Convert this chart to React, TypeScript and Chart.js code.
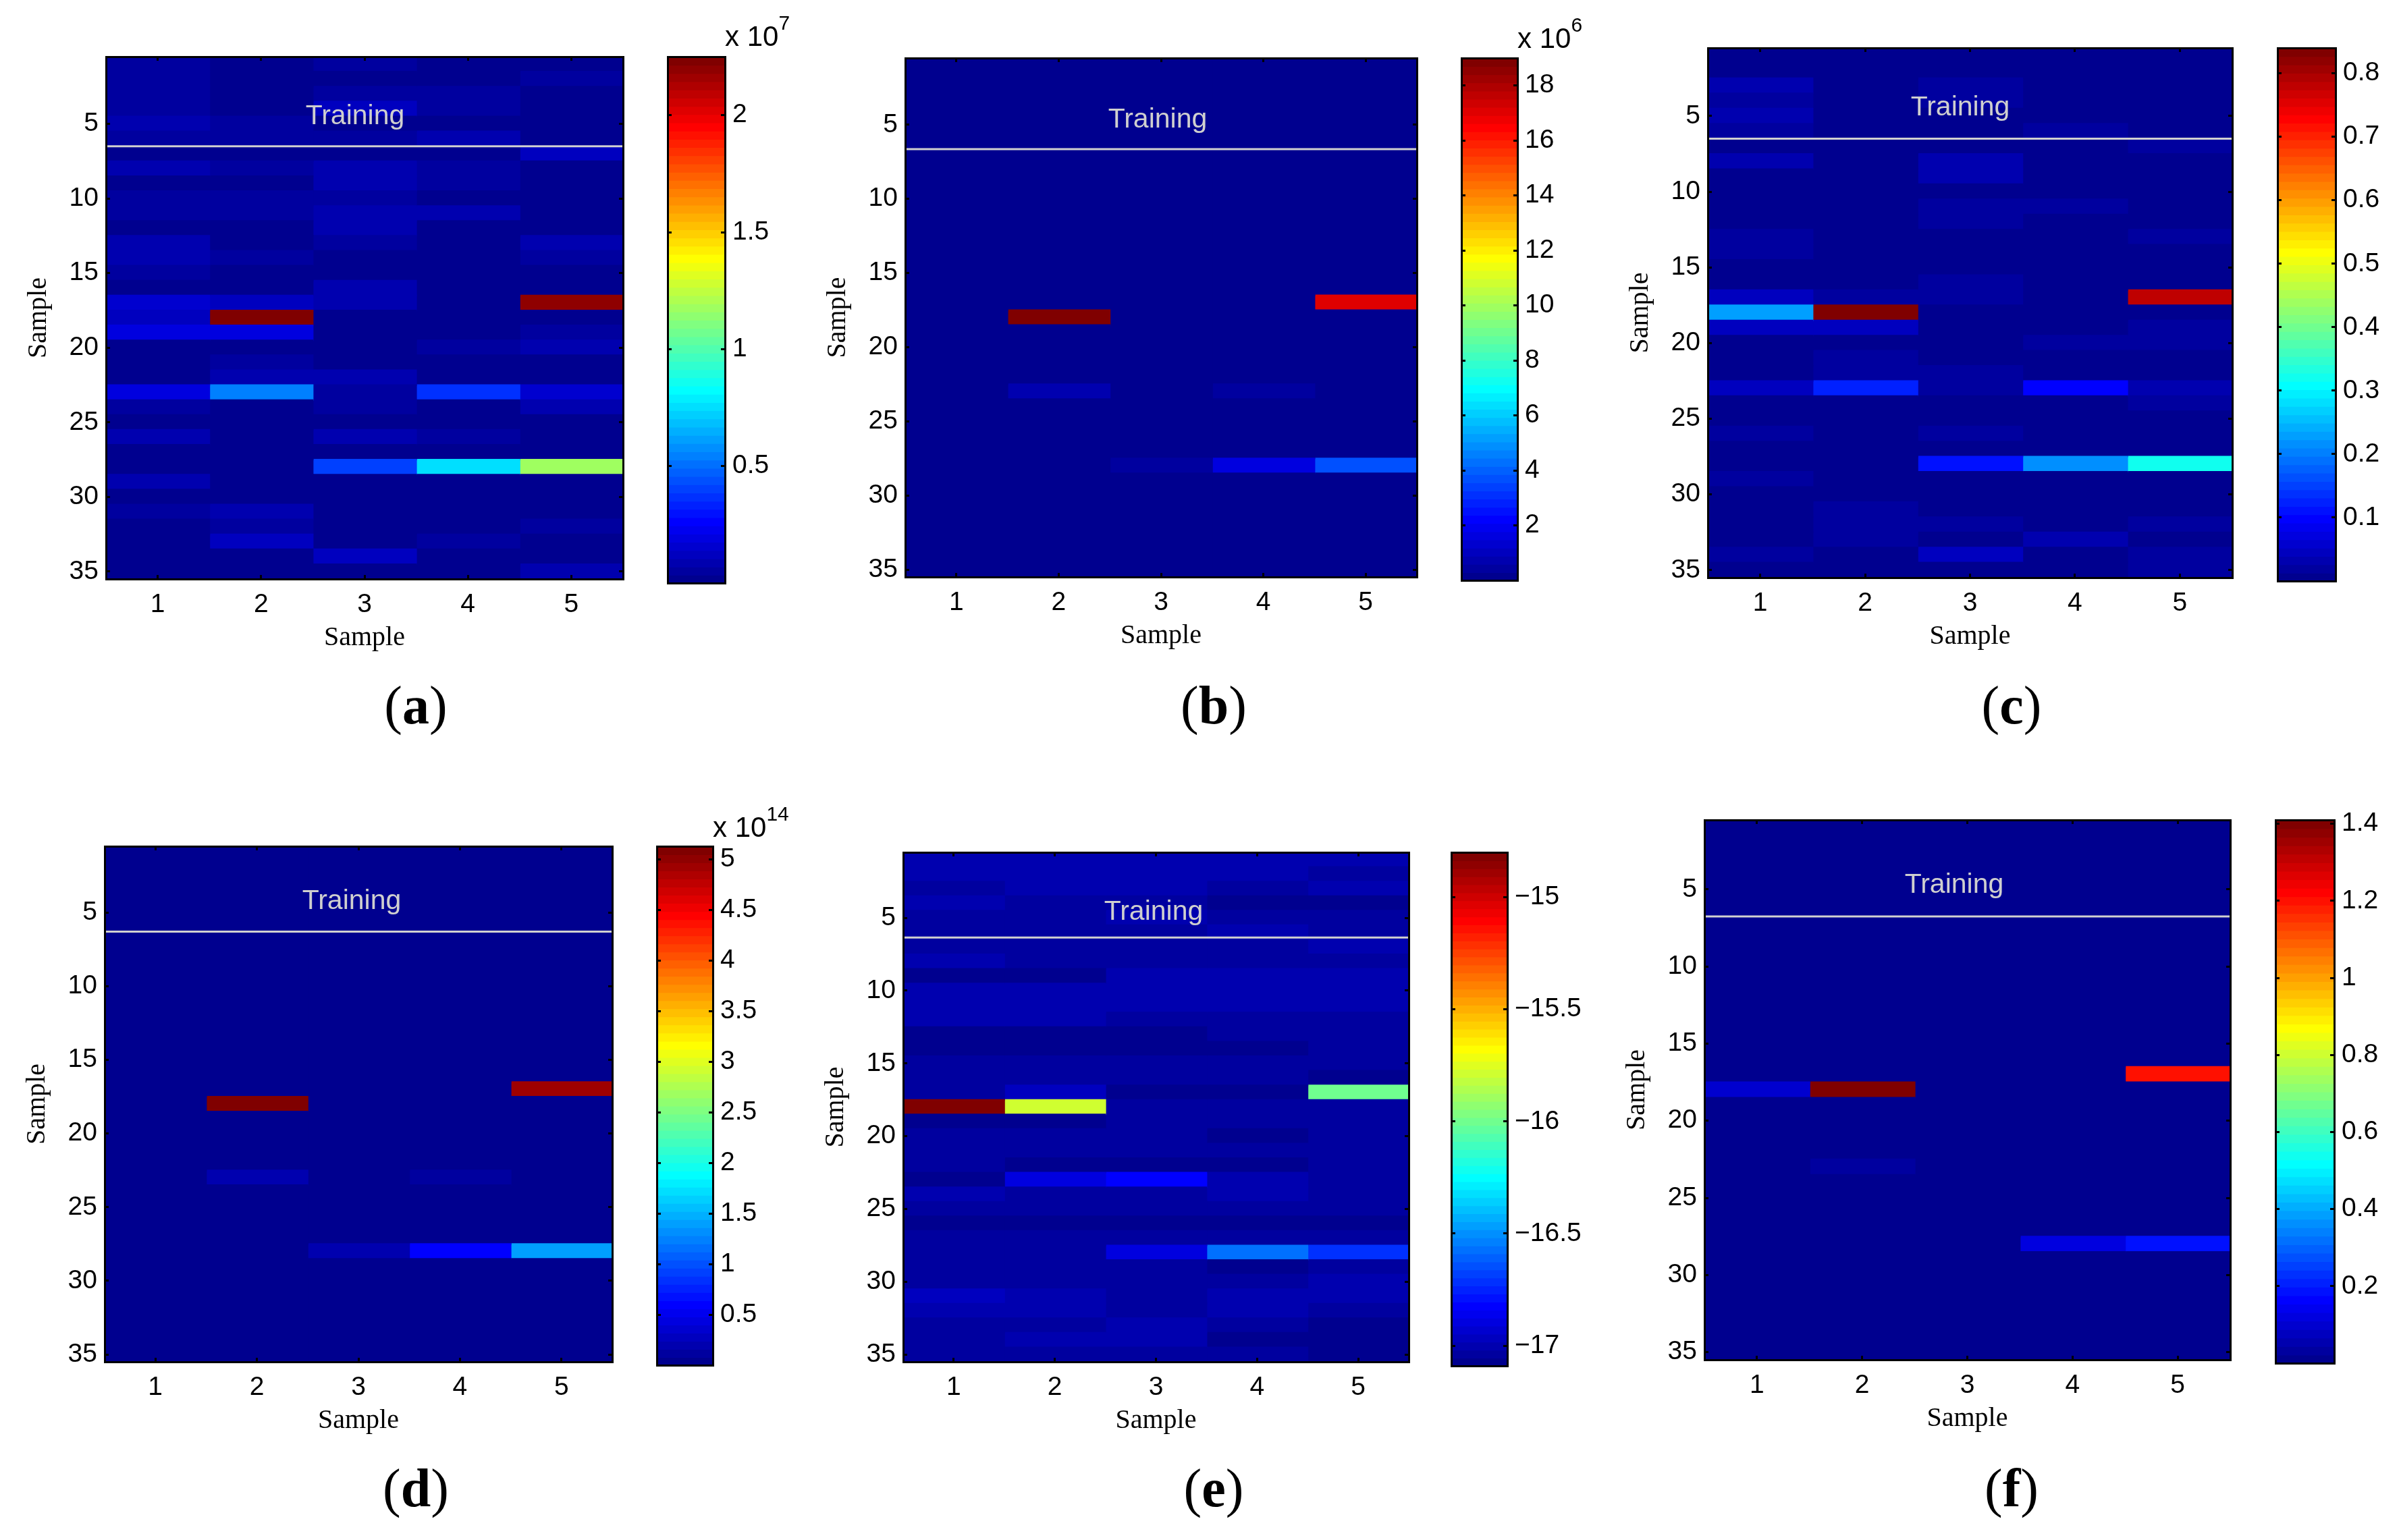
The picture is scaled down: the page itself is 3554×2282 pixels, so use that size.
import { useEffect, useRef } from 'react';
import { Chart, registerables } from 'chart.js';

Chart.register(...registerables);

const sampleTicks = [1, 2, 3, 4, 5];
const rowTicks = [5, 10, 15, 20, 25, 30, 35];

// each panel: five columns of 35 rows
const panelA = [
    [.05, .05, .05, .05, .09, .05, .02, .09, .02, .05, .05, .02, .09, .09, .05, .02, .16, .12, .19, .02, .02, .02, .19, .05, .02, .09, .02, .02, .09, .02, .05, .02, .02, .02, .02],
    [.02, .02, .02, .02, .05, .05, .02, .05, .02, .05, .05, .02, .02, .05, .02, .02, .12, 2.25, .19, .02, .05, .09, .55, .02, .02, .02, .02, .02, .02, .02, .09, .05, .12, .02, .02],
    [.05, .02, .05, .12, .02, .05, .02, .09, .09, .05, .09, .09, .05, .02, .02, .09, .09, .02, .02, .02, .02, .09, .05, .05, .02, .09, .02, .42, .02, .02, .02, .02, .02, .12, .02],
    [.02, .02, .05, .05, .02, .09, .02, .05, .05, .02, .09, .02, .02, .02, .02, .02, .02, .02, .02, .05, .02, .02, .38, .02, .02, .05, .02, .75, .02, .02, .02, .02, .05, .02, .02],
    [.02, .05, .02, .02, .02, .02, .12, .02, .02, .02, .02, .02, .09, .05, .02, .02, 2.2, .02, .05, .09, .02, .02, .16, .09, .02, .02, .02, 1.17, .02, .02, .02, .05, .02, .02, .09],
];

const panelB = [
    [.1, .1, .1, .1, .1, .1, .1, .1, .1, .1, .1, .1, .1, .1, .1, .1, .1, .1, .1, .1, .1, .1, .1, .1, .1, .1, .1, .1, .1, .1, .1, .1, .1, .1, .1],
    [.1, .1, .1, .1, .1, .1, .1, .1, .1, .1, .1, .1, .1, .1, .1, .1, .1, 19, .1, .1, .1, .1, .89, .1, .1, .1, .1, .1, .1, .1, .1, .1, .1, .1, .1],
    [.1, .1, .1, .1, .1, .1, .1, .1, .1, .1, .1, .1, .1, .1, .1, .1, .1, .1, .1, .1, .1, .1, .1, .1, .1, .1, .1, .45, .1, .1, .1, .1, .1, .1, .1],
    [.1, .1, .1, .1, .1, .1, .1, .1, .1, .1, .1, .1, .1, .1, .1, .1, .1, .1, .1, .1, .1, .1, .45, .1, .1, .1, .1, 1.6, .1, .1, .1, .1, .1, .1, .1],
    [.1, .1, .1, .1, .1, .1, .1, .1, .1, .1, .1, .1, .1, .1, .1, .1, 17.2, .1, .1, .1, .1, .1, .1, .1, .1, .1, .1, 3.8, .1, .1, .1, .1, .1, .1, .1],
];

const panelC = [
    [.007, .007, .033, .02, .033, .02, .007, .033, .007, .007, .007, .007, .02, .02, .007, .007, .046, .233, .046, .007, .007, .007, .046, .007, .007, .02, .007, .007, .02, .007, .007, .007, .007, .02, .007],
    [.007, .007, .007, .007, .007, .007, .007, .007, .007, .007, .007, .007, .007, .007, .007, .007, .02, .84, .046, .007, .02, .02, .125, .007, .007, .007, .007, .007, .007, .007, .02, .02, .02, .007, .007],
    [.007, .007, .02, .02, .007, .007, .007, .033, .033, .007, .02, .02, .007, .007, .007, .02, .02, .007, .007, .007, .007, .02, .02, .007, .007, .02, .007, .115, .007, .007, .007, .02, .007, .046, .007],
    [.007, .007, .007, .007, .007, .02, .007, .007, .007, .007, .02, .007, .007, .007, .007, .007, .007, .007, .007, .02, .007, .007, .098, .007, .007, .007, .007, .21, .007, .007, .007, .007, .033, .007, .007],
    [.007, .007, .007, .007, .007, .007, .02, .007, .007, .007, .007, .007, .02, .007, .007, .007, .777, .007, .02, .02, .007, .007, .033, .02, .007, .007, .007, .315, .007, .007, .007, .02, .007, .02, .02],
];

const panelD = [
    [.04, .04, .04, .04, .04, .04, .04, .04, .04, .04, .04, .04, .04, .04, .04, .04, .04, .04, .04, .04, .04, .04, .04, .04, .04, .04, .04, .04, .04, .04, .04, .04, .04, .04, .04],
    [.04, .04, .04, .04, .04, .04, .04, .04, .04, .04, .04, .04, .04, .04, .04, .04, .04, 5.13, .04, .04, .04, .04, .2, .04, .04, .04, .04, .04, .04, .04, .04, .04, .04, .04, .04],
    [.04, .04, .04, .04, .04, .04, .04, .04, .04, .04, .04, .04, .04, .04, .04, .04, .04, .04, .04, .04, .04, .04, .04, .04, .04, .04, .04, .2, .04, .04, .04, .04, .04, .04, .04],
    [.04, .04, .04, .04, .04, .04, .04, .04, .04, .04, .04, .04, .04, .04, .04, .04, .04, .04, .04, .04, .04, .04, .12, .04, .04, .04, .04, .6, .04, .04, .04, .04, .04, .04, .04],
    [.04, .04, .04, .04, .04, .04, .04, .04, .04, .04, .04, .04, .04, .04, .04, .04, 4.95, .04, .04, .04, .04, .04, .04, .04, .04, .04, .04, 1.41, .04, .04, .04, .04, .04, .04, .04],
];

const panelE = [
    [-17, -17, -17.04, -17, -17.04, -17.04, -17.04, -17, -17.07, -17, -17, -17, -17.07, -17.07, -17.04, -17.04, -17.04, -14.8, -17.07, -17.04, -17.04, -17.04, -17.07, -17, -17.04, -17.07, -17.04, -17.04, -17.04, -17.04, -16.97, -17, -17.04, -17.04, -17.04],
    [-17, -17, -17, -17.04, -17.04, -17.04, -17.04, -17.04, -17.07, -17, -17, -17, -17.07, -17.07, -17.04, -17.04, -16.97, -15.8, -17.07, -17.04, -17.04, -17.07, -16.89, -17.04, -17.04, -17.07, -17.04, -17.04, -17.04, -17.04, -17, -17, -17.04, -17, -17.04],
    [-17, -17, -17, -17.04, -17, -17.04, -17.04, -17.04, -17, -17, -17, -17.04, -17.07, -17.07, -17.04, -17.04, -17.07, -17.04, -17.04, -17.04, -17.04, -17.07, -16.82, -17.04, -17.04, -17.07, -17.04, -16.89, -17.04, -17.04, -17.04, -17.04, -17, -17, -17.04],
    [-17, -17, -17.04, -17.07, -17.04, -17, -17.04, -17.04, -17, -17, -17, -17.04, -17.04, -17.07, -17.04, -17.04, -17.07, -17.04, -17.04, -17.07, -17.04, -17.07, -17, -17, -17.04, -17.07, -17.04, -16.57, -17.07, -17.04, -17, -17, -17.04, -17.07, -17.04],
    [-17, -17.04, -17, -17.07, -17.04, -17.04, -17, -17.04, -17, -17, -17, -17.04, -17.04, -17.04, -17.04, -17.07, -16, -17.04, -17.04, -17.04, -17.04, -17.04, -17.04, -17.04, -17.04, -17.07, -17.04, -16.7, -17.04, -17, -17, -17.04, -17.07, -17.07, -17.07],
];

const panelF = [
    [.005, .005, .005, .005, .005, .005, .005, .005, .005, .005, .005, .005, .005, .005, .005, .005, .005, .1, .005, .005, .005, .005, .005, .005, .005, .005, .005, .005, .005, .005, .005, .005, .005, .005, .005],
    [.005, .005, .005, .005, .005, .005, .005, .005, .005, .005, .005, .005, .005, .005, .005, .005, .005, 1.41, .005, .005, .005, .005, .035, .005, .005, .005, .005, .005, .005, .005, .005, .005, .005, .005, .005],
    [.005, .005, .005, .005, .005, .005, .005, .005, .005, .005, .005, .005, .005, .005, .005, .005, .005, .005, .005, .005, .005, .005, .005, .005, .005, .005, .005, .005, .005, .005, .005, .005, .005, .005, .005],
    [.005, .005, .005, .005, .005, .005, .005, .005, .005, .005, .005, .005, .005, .005, .005, .005, .005, .005, .005, .005, .005, .005, .005, .005, .005, .005, .005, .12, .005, .005, .005, .005, .005, .005, .005],
    [.005, .005, .005, .005, .005, .005, .005, .005, .005, .005, .005, .005, .005, .005, .005, .005, 1.19, .005, .005, .005, .005, .005, .005, .005, .005, .005, .005, .19, .005, .005, .005, .005, .005, .005, .005],
];

const barTicksA = [0.5, 1, 1.5, 2];
const barTicksB = [2, 4, 6, 8, 10, 12, 14, 16, 18];
const barTicksC = [0.1, 0.2, 0.3, 0.4, 0.5, 0.6, 0.7, 0.8];
const barTicksD = [0.5, 1, 1.5, 2, 2.5, 3, 3.5, 4, 4.5, 5];
const barTicksE = [-17, -16.5, -16, -15.5, -15];
const barTicksF = [0.2, 0.4, 0.6, 0.8, 1, 1.2, 1.4];

// where each panel sits on the page: heatmap box, colorbar box, texts
const panels = [
    { id: 'a', values: panelA, min: 0, max: 2.25, barTicks: barTicksA, split: 6.5, exp: '7', box: [157, 84, 923, 858], bar: [989, 84, 1074, 864], train: [526, 170], cap: [616, 1045], expAt: [1074, 30] },
    { id: 'b', values: panelB, min: 0, max: 19, barTicks: barTicksB, split: 6.65, exp: '6', box: [1341, 86, 2099, 855], bar: [2165, 86, 2248, 860], train: [1715, 175], cap: [1798, 1045], expAt: [2248, 33] },
    { id: 'c', values: panelC, min: 0, max: 0.84, barTicks: barTicksC, split: 6.5, exp: '', box: [2530, 71, 3307, 856], bar: [3374, 71, 3460, 861], train: [2904, 157], cap: [2980, 1045], expAt: [0, 0] },
    { id: 'd', values: panelD, min: 0, max: 5.13, barTicks: barTicksD, split: 6.3, exp: '14', box: [155, 1254, 907, 2018], bar: [973, 1254, 1056, 2023], train: [521, 1333], cap: [616, 2205], expAt: [1056, 1202] },
    { id: 'e', values: panelE, min: -17.09, max: -14.8, barTicks: barTicksE, split: 6.35, exp: '', box: [1338, 1263, 2087, 2018], bar: [2150, 1263, 2233, 2024], train: [1709, 1349], cap: [1798, 2205], expAt: [0, 0] },
    { id: 'f', values: panelF, min: 0, max: 1.41, barTicks: barTicksF, split: 6.76, exp: '', box: [2525, 1215, 3304, 2015], bar: [3371, 1215, 3458, 2020], train: [2895, 1309], cap: [2980, 2205], expAt: [0, 0] },
];

// MATLAB jet with 64 levels
const jet = (t: number) => {
    const level = Math.max(0, Math.min(63, Math.floor(t * 64)));
    const x = (level + 1) / 64;
    const clamp = (v: number) => Math.round(255 * Math.max(0, Math.min(1, v)));
    const r = Math.min(4 * (x - 0.375), 1 - 4 * (x - 0.875));
    const g = Math.min(4 * (x - 0.125), 1 - 4 * (x - 0.625));
    const b = Math.min(0.5 + 4 * x, 1 - 4 * (x - 0.375));
    return `rgb(${clamp(Math.min(r, 1))},${clamp(Math.min(g, 1))},${clamp(Math.min(b, 1))})`;
};

const SANS = '"Liberation Sans", Arial, sans-serif';
const SERIF = '"Liberation Serif", "Times New Roman", serif';
const TICK = 6;

const edge = { color: '#000', width: 3, z: 2 };

// an axis that only draws its border and inward tick marks
const plainAxis = (axis: string, position: string, min: number, max: number, ticks: number[], reverse = false) => ({
    type: 'linear',
    axis,
    position,
    min,
    max,
    reverse,
    offset: false,
    border: edge,
    grid: { drawOnChartArea: false, drawTicks: true, tickLength: -TICK, color: '#000', lineWidth: 3, z: 2, offset: false },
    ticks: { display: false, autoSkip: false },
    afterBuildTicks: (s: any) => { s.ticks = ticks.map((value) => ({ value })); },
    afterFit: (s: any) => {
        if (axis === 'x') s.height = 0;
        else s.width = 0;
    },
});

const labelTicks = (padding: number) => ({
    display: true,
    autoSkip: false,
    maxRotation: 0,
    padding,
    color: '#000',
    font: { family: SANS, size: 39 },
    z: 2,
    callback: (v: any) => String(v).replace('-', '\u2212'),
});

const heatConfig = (p: any) => {
    const datasets: any[] = p.values.map((col: number[], c: number) => ({
        type: 'bar',
        order: 2,
        grouped: false,
        barPercentage: 1,
        categoryPercentage: 1,
        borderWidth: 0,
        inflateAmount: 1,
        data: col.map((_, i) => ({ x: c + 1, y: [i + 0.5, i + 1.5] })),
        backgroundColor: col.map((v) => jet((v - p.min) / (p.max - p.min))),
    }));
    datasets.push({
        type: 'line',
        order: 1,
        data: [{ x: 0.5, y: p.split }, { x: 5.5, y: p.split }],
        borderColor: '#d0d0d0',
        borderWidth: 3,
        pointRadius: 0,
    });
    return {
        type: 'bar',
        data: { datasets },
        options: {
            animation: false,
            responsive: false,
            devicePixelRatio: 1,
            layout: { padding: { top: 60, right: 30, bottom: 0, left: 0 } },
            plugins: { legend: { display: false }, tooltip: { enabled: false } },
            scales: {
                x: {
                    ...plainAxis('x', 'bottom', 0.5, 5.5, sampleTicks),
                    ticks: labelTicks(21),
                    title: { display: true, text: 'Sample', color: '#000', font: { family: SERIF, size: 40 }, padding: { top: 0, bottom: 9 } },
                    afterFit: (s: any) => { s.height = 120; },
                },
                x2: plainAxis('x', 'top', 0.5, 5.5, sampleTicks),
                y: {
                    ...plainAxis('y', 'left', 0.5, 35.5, rowTicks, true),
                    ticks: labelTicks(17),
                    title: { display: true, text: 'Sample', color: '#000', font: { family: SERIF, size: 40 }, padding: { top: 26, bottom: 0 } },
                    afterFit: (s: any) => { s.width = 150; },
                },
                y2: plainAxis('y', 'right', 0.5, 35.5, rowTicks, true),
            },
        },
    };
};

const colorbarConfig = (p: any) => {
    const step = (p.max - p.min) / 64;
    const levels = Array.from({ length: 64 }, (_, i) => i);
    return {
        type: 'bar',
        data: {
            datasets: [{
                grouped: false,
                barPercentage: 1,
                categoryPercentage: 1,
                borderWidth: 0,
                inflateAmount: 1,
                data: levels.map((i) => ({ x: 1, y: [p.min + i * step, p.min + (i + 1) * step] })),
                backgroundColor: levels.map((i) => jet((i + 0.5) / 64)),
            }],
        },
        options: {
            animation: false,
            responsive: false,
            devicePixelRatio: 1,
            layout: { padding: { top: 60, right: 0, bottom: 60, left: 10 } },
            plugins: { legend: { display: false }, tooltip: { enabled: false } },
            scales: {
                x: plainAxis('x', 'bottom', 0.5, 1.5, []),
                x2: plainAxis('x', 'top', 0.5, 1.5, []),
                y: {
                    ...plainAxis('y', 'right', p.min, p.max, p.barTicks),
                    ticks: labelTicks(17),
                    afterFit: (s: any) => { s.width = 130; },
                },
                y2: plainAxis('y', 'left', p.min, p.max, p.barTicks),
            },
        },
    };
};

const Panel = ({ p }: { p: any }) => {
    const heatRef = useRef<HTMLCanvasElement>(null);
    const barRef = useRef<HTMLCanvasElement>(null);

    useEffect(() => {
        const heat = new Chart(heatRef.current as any, heatConfig(p) as any);
        const bar = new Chart(barRef.current as any, colorbarConfig(p) as any);
        return () => {
            heat.destroy();
            bar.destroy();
        };
    }, [p]);

    const [l, t, r, b] = p.box;
    const [bl, bt, br, bb] = p.bar;
    const text: any = { position: 'absolute', whiteSpace: 'nowrap', lineHeight: 1 };

    return (
        <>
            <canvas
                ref={heatRef}
                width={r - l + 180}
                height={b - t + 180}
                style={{ position: 'absolute', left: l - 150, top: t - 60, width: r - l + 180, height: b - t + 180 }}
            />
            <canvas
                ref={barRef}
                width={br - bl + 140}
                height={bb - bt + 120}
                style={{ position: 'absolute', left: bl - 10, top: bt - 60, width: br - bl + 140, height: bb - bt + 120 }}
            />
            <span style={{ ...text, left: p.train[0], top: p.train[1], transform: 'translate(-50%, -50%)', font: `41px ${SANS}`, color: '#cfcfcf' }}>
                Training
            </span>
            {p.exp && (
                <span style={{ ...text, left: p.expAt[0], top: p.expAt[1], font: `42px ${SANS}`, color: '#000' }}>
                    x 10<span style={{ position: 'relative', top: -24, fontSize: 30 }}>{p.exp}</span>
                </span>
            )}
            <span style={{ ...text, left: p.cap[0], top: p.cap[1], transform: 'translate(-50%, -50%)', font: `80px ${SERIF}`, color: '#000' }}>
                (<b>{p.id}</b>)
            </span>
        </>
    );
};

const App = () => (
    <div style={{ position: 'absolute', left: 0, top: 0, width: 3554, height: 2282, overflow: 'hidden', background: '#fff' }}>
        {panels.map((p) => <Panel key={p.id} p={p} />)}
    </div>
);

export default App;
